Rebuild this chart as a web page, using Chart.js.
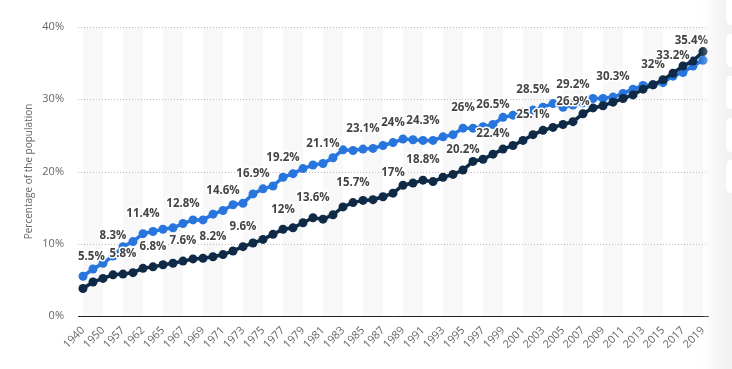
<!DOCTYPE html>
<html>
<head>
<meta charset="utf-8">
<script src="https://cdn.jsdelivr.net/npm/chart.js@4.4.0/dist/chart.umd.min.js"></script>
<style>
  html, body { margin: 0; padding: 0; background: #fff; }
  #wrap { position: relative; width: 732px; height: 369px; overflow: hidden; }
  #shade { position: absolute; left: 700px; top: 0; width: 32px; height: 369px;
           background: linear-gradient(to right, rgba(242,242,242,0), #f2f2f2 85%); }
  .tool { position: absolute; left: 726px; width: 30px; background: #fff;
          border-radius: 5px; box-shadow: 0 0 2px rgba(0,0,0,0.04); }
</style>
</head>
<body>
<div id="wrap">
  <canvas id="chart" width="732" height="369"></canvas>
  <div id="shade"></div>
  <div class="tool" style="top:-6px;height:31px"></div>
  <div class="tool" style="top:34px;height:33px"></div>
  <div class="tool" style="top:76px;height:33px"></div>
  <div class="tool" style="top:118px;height:34px"></div>
  <div class="tool" style="top:160px;height:33px"></div>
</div>
<script>
// years of the survey
var years = [1940, 1947, 1950, 1952, 1957, 1959, 1962, 1964,
  1965, 1966, 1967, 1968, 1969, 1970, 1971, 1972, 1973, 1974, 1975, 1976,
  1977, 1978, 1979, 1980, 1981, 1982, 1983, 1984, 1985, 1986, 1987, 1988,
  1989, 1990, 1991, 1992, 1993, 1994, 1995, 1996, 1997, 1998, 1999, 2000,
  2001, 2002, 2003, 2004, 2005, 2006, 2007, 2008, 2009, 2010, 2011, 2012,
  2013, 2014, 2015, 2016, 2017, 2018, 2019];

// light blue line
var men = [5.5, 6.5, 7.3, 8.3, 9.6, 10.3, 11.4, 11.7,
  12.0, 12.2, 12.8, 13.3, 13.3, 14.1, 14.6, 15.4, 15.6, 16.9, 17.6, 18.0,
  19.2, 19.7, 20.4, 20.9, 21.1, 21.9, 23.0, 22.9, 23.1, 23.2, 23.6, 24.0,
  24.5, 24.4, 24.3, 24.3, 24.8, 25.1, 26.0, 26.0, 26.2, 26.5, 27.5, 27.8,
  28.2, 28.5, 28.9, 29.4, 28.9, 29.2, 29.5, 30.1, 30.1, 30.3, 30.8, 31.4,
  31.9, 32.0, 32.3, 33.2, 33.7, 34.6, 35.4];

// dark navy line
var women = [3.8, 4.7, 5.2, 5.7, 5.8, 6.0, 6.6, 6.8,
  7.1, 7.3, 7.6, 7.9, 8.0, 8.2, 8.5, 9.0, 9.6, 10.1, 10.6, 11.3,
  12.0, 12.2, 12.9, 13.6, 13.4, 14.0, 15.1, 15.7, 16.0, 16.1, 16.5, 17.0,
  18.1, 18.4, 18.8, 18.6, 19.2, 19.6, 20.2, 21.4, 21.7, 22.4, 23.1, 23.6,
  24.3, 25.1, 25.7, 26.1, 26.5, 26.9, 28.0, 28.8, 29.1, 29.6, 30.1, 30.6,
  31.4, 32.0, 32.7, 33.6, 34.6, 35.3, 36.6];

// which points carry a value label
var menLabelIdx = [0, 3, 6, 10, 14, 17, 20, 24, 28, 31, 34, 38, 41, 45, 49, 53, 57, 59, 62];
var womenLabelIdx = [4, 7, 10, 13, 16, 20, 23, 27, 31, 34, 38, 41, 45, 49];

var yTicks = [0, 10, 20, 30, 40];

// alternating grey bands and dotted grid lines behind the plot
var bandsPlugin = {
  id: 'bands',
  beforeDraw: function(chart) {
    var ctx = chart.ctx, x = chart.scales.x, y = chart.scales.y, a = chart.chartArea;
    ctx.save();
    ctx.fillStyle = '#f8f8f8';
    for (var i = 0; i + 2 < years.length; i += 4) {
      var x0 = x.getPixelForValue(i), x1 = x.getPixelForValue(i + 2);
      ctx.fillRect(x0, a.top, x1 - x0, a.bottom - a.top);
    }
    ctx.strokeStyle = '#bdbdbd';
    ctx.lineWidth = 1;
    ctx.setLineDash([1, 2]);
    yTicks.forEach(function(v) {
      if (v === 0) return;
      var py = Math.round(y.getPixelForValue(v)) + 0.5;
      ctx.beginPath();
      ctx.moveTo(a.left, py);
      ctx.lineTo(a.right, py);
      ctx.stroke();
    });
    ctx.restore();
  }
};

// value labels above chosen points
var labelsPlugin = {
  id: 'pointLabels',
  afterDatasetsDraw: function(chart) {
    var ctx = chart.ctx, a = chart.chartArea;
    ctx.save();
    ctx.font = 'bold 11.5px "Open Sans"';
    ctx.textAlign = 'center';
    ctx.textBaseline = 'middle';
    ctx.lineJoin = 'round';
    [[0, menLabelIdx], [1, womenLabelIdx]].forEach(function(pair) {
      var meta = chart.getDatasetMeta(pair[0]);
      var data = chart.data.datasets[pair[0]].data;
      pair[1].forEach(function(i) {
        var pt = meta.data[i];
        var text = data[i] + '%';
        var w = ctx.measureText(text).width;
        var x = Math.min(Math.max(pt.x, a.left + w / 2), a.right - w / 2);
        var y = pt.y - 20;
        ctx.strokeStyle = '#fff';
        ctx.lineWidth = 3;
        ctx.strokeText(text, x, y);
        ctx.fillStyle = '#444';
        ctx.fillText(text, x, y);
      });
    });
    ctx.restore();
  }
};

new Chart(document.getElementById('chart'), {
  type: 'line',
  data: {
    labels: years,
    datasets: [{
      label: 'Men',
      data: men,
      borderColor: '#2876dd',
      backgroundColor: '#2876dd',
      borderWidth: 3.5,
      pointRadius: 4.5,
      pointHoverRadius: 4.5,
      pointBorderWidth: 0,
      order: 1
    }, {
      label: 'Women',
      data: women,
      borderColor: '#0f2a46',
      backgroundColor: '#0f2a46',
      borderWidth: 3.5,
      pointRadius: 4.5,
      pointHoverRadius: 4.5,
      pointBorderWidth: 0,
      order: 0
    }]
  },
  options: {
    responsive: false,
    devicePixelRatio: 1,
    animation: false,
    layout: { padding: { top: 27, right: 24, left: 0, bottom: 0 } },
    plugins: { legend: { display: false }, tooltip: { enabled: false } },
    scales: {
      x: {
        offset: true,
        grid: { display: false, drawTicks: false },
        border: { display: true, color: '#222', width: 1 },
        ticks: {
          autoSkip: false,
          maxRotation: 45,
          minRotation: 45,
          padding: 8,
          color: '#666',
          font: { family: 'Open Sans', size: 11 },
          callback: function(v, i) { return i % 2 === 0 ? years[i] : ''; }
        },
        afterFit: function(s) { s.height = 53; }
      },
      y: {
        min: 0,
        max: 40,
        afterBuildTicks: function(s) { s.ticks = yTicks.map(function(v) { return { value: v }; }); },
        grid: { display: false, drawTicks: false },
        border: { display: false },
        ticks: {
          padding: 14,
          color: '#666',
          font: { family: 'Open Sans', size: 11 },
          callback: function(v) { return v + '%'; }
        },
        title: {
          display: true,
          text: 'Percentage of the population',
          color: '#666',
          font: { family: 'Open Sans', size: 10 },
          padding: { top: 23, bottom: 0 }
        },
        afterFit: function(s) { s.width = 78; }
      }
    }
  },
  plugins: [bandsPlugin, labelsPlugin]
});
</script>
</body>
</html>
